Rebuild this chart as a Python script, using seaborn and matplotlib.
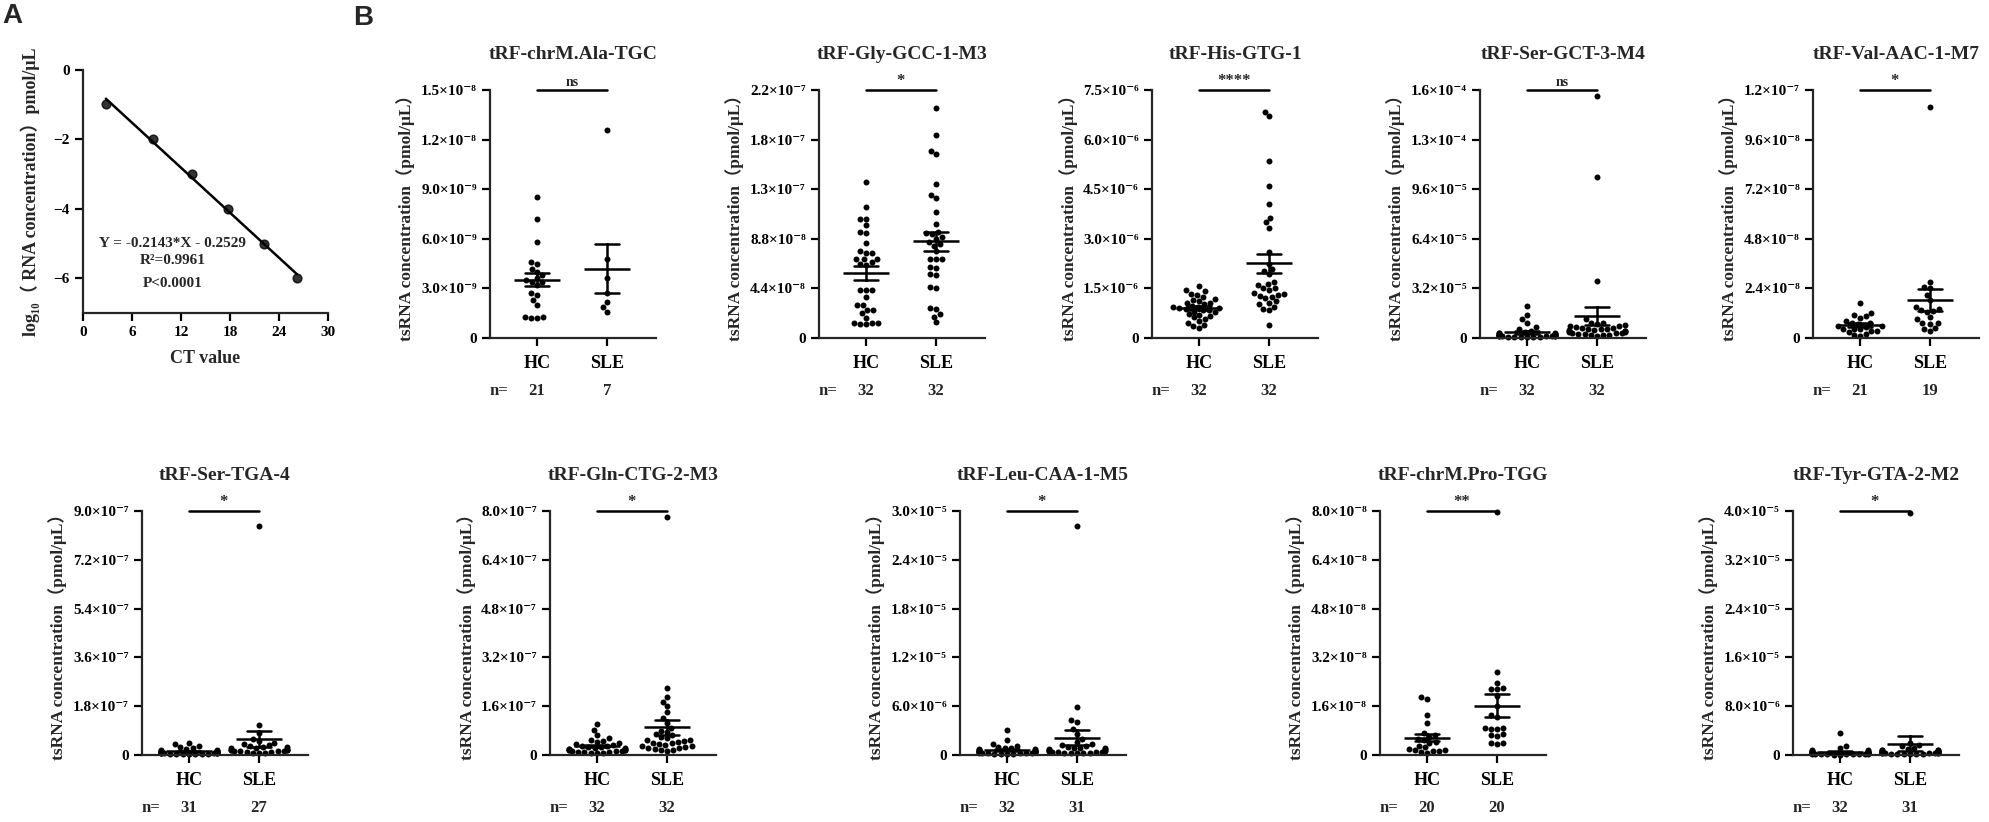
import numpy as np
import pandas as pd
import matplotlib
matplotlib.use("Agg")
import matplotlib.pyplot as plt
import seaborn as sns

# ---- panel A: standard curve ----
ct_value = [2.8, 8.6, 13.4, 17.7, 22.2, 26.2]
log_conc = [-0.97, -2.0, -3.0, -4.0, -5.0, -6.0]

# ---- panel B: values in units of 10**exp ----
groups = ["HC", "SLE"]
titles = ["tRF-chrM.Ala-TGC", "tRF-Gly-GCC-1-M3", "tRF-His-GTG-1", "tRF-Ser-GCT-3-M4",
          "tRF-Val-AAC-1-M7", "tRF-Ser-TGA-4", "tRF-Gln-CTG-2-M3", "tRF-Leu-CAA-1-M5",
          "tRF-chrM.Pro-TGG", "tRF-Tyr-GTA-2-M2"]
signif = ["ns", "*", "****", "ns", "*", "*", "*", "*", "**", "*"]
exps = [-9, -8, -6, -5, -8, -7, -7, -6, -8, -6]
ymax = [15, 22, 7.5, 16, 12, 9, 8, 30, 8, 40]

ala_hc = [8.5, 7.2, 5.8, 4.6, 4.5, 4.2, 4.0, 3.8, 3.6, 3.5, 3.4, 3.4, 3.2, 2.6, 2.7, 2.3,
          2.0, 1.3, 1.2, 1.2, 1.3]
ala_sle = [12.6, 4.8, 3.6, 2.7, 2.2, 1.9, 1.6]

gly_hc = [13.8, 11.6, 10.6, 10.6, 10.0, 9.4, 9.3, 8.4, 7.7, 7.5, 7.5, 7.0, 7.0, 7.0, 6.7,
          6.6, 6.5, 4.3, 4.3, 4.3, 3.6, 2.9, 2.9, 2.5, 2.5, 2.2, 1.8, 1.3, 1.3, 1.3, 1.2, 1.2]
gly_sle = [20.4, 18.0, 16.6, 16.3, 13.7, 12.7, 12.4, 11.2, 10.1, 9.4, 9.3, 9.2, 9.0, 8.8,
           8.5, 8.3, 8.2, 7.7, 7.0, 7.0, 7.0, 6.3, 6.2, 5.7, 5.6, 4.5, 4.4, 2.7, 2.6, 2.1,
           1.9, 1.4]

his_hc = [1.58, 1.45, 1.42, 1.33, 1.30, 1.25, 1.17, 1.15, 1.12, 1.07, 1.05, 1.02, 0.97,
          0.95, 0.94, 0.92, 0.90, 0.88, 0.86, 0.84, 0.80, 0.78, 0.72, 0.70, 0.68, 0.62,
          0.58, 0.52, 0.46, 0.40, 0.35, 0.30]
his_sle = [6.84, 6.70, 5.36, 4.59, 4.05, 3.64, 3.50, 3.34, 2.60, 2.24, 2.10, 2.04, 1.95,
           1.70, 1.63, 1.60, 1.52, 1.50, 1.45, 1.35, 1.33, 1.30, 1.28, 1.25, 1.20, 1.12,
           1.05, 1.02, 0.95, 0.89, 0.85, 0.38]

sergct_hc = [2.05, 1.5, 1.2, 0.95, 0.7, 0.55, 0.45, 0.4, 0.35, 0.32, 0.3, 0.28, 0.26, 0.24,
             0.22, 0.2, 0.19, 0.18, 0.17, 0.16, 0.15, 0.14, 0.13, 0.12, 0.11, 0.1, 0.09,
             0.08, 0.07, 0.06, 0.05, 0.04]
sergct_sle = [15.6, 10.4, 3.7, 1.2, 1.0, 0.95, 0.9, 0.85, 0.8, 0.75, 0.7, 0.65, 0.62, 0.6,
              0.58, 0.55, 0.52, 0.5, 0.48, 0.45, 0.42, 0.4, 0.38, 0.35, 0.33, 0.3, 0.28,
              0.25, 0.22, 0.2, 0.18, 0.15]

val_hc = [1.7, 1.2, 1.1, 1.05, 0.98, 0.82, 0.75, 0.73, 0.7, 0.58, 0.57, 0.55, 0.45, 0.44,
          0.42, 0.35, 0.33, 0.3, 0.18, 0.15, 0.08]
val_sle = [11.2, 2.7, 2.45, 2.4, 2.1, 1.85, 1.5, 1.4, 1.35, 1.3, 1.25, 1.0, 0.9, 0.75,
           0.72, 0.7, 0.5, 0.45, 0.35]

sertga_hc = [0.45, 0.4, 0.32, 0.28, 0.25, 0.22, 0.2, 0.18, 0.16, 0.15, 0.14, 0.13, 0.12,
             0.11, 0.1, 0.1, 0.09, 0.09, 0.08, 0.08, 0.07, 0.07, 0.06, 0.06, 0.05, 0.05,
             0.04, 0.04, 0.03, 0.03, 0.02]
sertga_sle = [8.44, 1.1, 0.8, 0.6, 0.5, 0.45, 0.4, 0.36, 0.33, 0.3, 0.28, 0.26, 0.24, 0.22,
              0.2, 0.19, 0.18, 0.17, 0.16, 0.15, 0.14, 0.13, 0.12, 0.1, 0.09, 0.08, 0.06]

gln_hc = [1.02, 0.82, 0.65, 0.55, 0.5, 0.45, 0.42, 0.38, 0.35, 0.33, 0.3, 0.28, 0.26, 0.25,
          0.24, 0.22, 0.21, 0.2, 0.19, 0.18, 0.17, 0.16, 0.15, 0.14, 0.13, 0.12, 0.11, 0.1,
          0.09, 0.08, 0.07, 0.06]
gln_sle = [7.8, 2.2, 1.9, 1.75, 1.6, 1.4, 1.2, 1.05, 0.9, 0.8, 0.75, 0.7, 0.65, 0.6, 0.55,
           0.5, 0.48, 0.45, 0.42, 0.4, 0.38, 0.35, 0.33, 0.3, 0.28, 0.26, 0.24, 0.22, 0.2,
           0.18, 0.16, 0.14]

leu_hc = [3.1, 1.85, 1.35, 1.1, 0.95, 0.85, 0.8, 0.75, 0.7, 0.65, 0.6, 0.58, 0.55, 0.52,
          0.5, 0.48, 0.45, 0.42, 0.4, 0.38, 0.35, 0.32, 0.3, 0.28, 0.26, 0.24, 0.22, 0.2,
          0.18, 0.16, 0.14, 0.12]
leu_sle = [28.2, 5.9, 4.3, 4.0, 3.2, 2.6, 2.0, 1.6, 1.4, 1.2, 1.1, 1.0, 0.9, 0.85, 0.8,
           0.75, 0.7, 0.65, 0.6, 0.55, 0.5, 0.45, 0.4, 0.38, 0.35, 0.32, 0.3, 0.28, 0.25,
           0.22, 0.2]

pro_hc = [1.9, 1.82, 1.3, 1.06, 0.72, 0.65, 0.6, 0.52, 0.48, 0.44, 0.4, 0.3, 0.25, 0.2,
          0.18, 0.16, 0.14, 0.12, 0.1, 0.06]
pro_sle = [7.97, 2.73, 2.35, 2.2, 2.18, 2.15, 1.95, 1.6, 1.3, 1.25, 0.9, 0.88, 0.86, 0.85,
           0.68, 0.65, 0.62, 0.4, 0.38, 0.36]

tyr_hc = [3.55, 1.4, 1.1, 0.9, 0.8, 0.7, 0.65, 0.6, 0.55, 0.5, 0.48, 0.45, 0.42, 0.4, 0.38,
          0.36, 0.34, 0.32, 0.3, 0.28, 0.26, 0.24, 0.22, 0.2, 0.18, 0.16, 0.15, 0.14, 0.12,
          0.1, 0.08, 0.06]
tyr_sle = [39.7, 2.0, 1.6, 1.4, 1.2, 1.0, 0.9, 0.85, 0.8, 0.75, 0.7, 0.65, 0.6, 0.55, 0.5,
           0.48, 0.45, 0.42, 0.4, 0.38, 0.35, 0.32, 0.3, 0.28, 0.25, 0.22, 0.2, 0.18, 0.15,
           0.12, 0.1]

hc_values = [ala_hc, gly_hc, his_hc, sergct_hc, val_hc, sertga_hc, gln_hc, leu_hc, pro_hc, tyr_hc]
sle_values = [ala_sle, gly_sle, his_sle, sergct_sle, val_sle, sertga_sle, gln_sle, leu_sle,
              pro_sle, tyr_sle]

sns.set_style("ticks")
plt.rcParams["font.family"] = ["Liberation Serif", "DejaVu Serif", "Noto Sans CJK SC"]
plt.rcParams["font.weight"] = "bold"
plt.rcParams["axes.labelweight"] = "bold"
plt.rcParams["axes.titleweight"] = "bold"
plt.rcParams["axes.linewidth"] = 1.6

W, H = 1989, 822
fig = plt.figure(figsize=(W / 100, H / 100), dpi=100)

SUP = str.maketrans("-0123456789", "⁻⁰¹²³⁴⁵⁶⁷⁸⁹")


def sci(v, pos=None):
    if v <= 0:
        return "0"
    e = int(np.floor(np.log10(v) + 1e-9))
    m = round(v / 10 ** e, 1)
    if m >= 10:
        m, e = m / 10, e + 1
    return f"{m:.1f}×10" + str(e).translate(SUP)


def px_axes(left, top, width, height):
    return fig.add_axes([left / W, (H - top - height) / H, width / W, height / H])


def style_axes(ax):
    sns.despine(ax=ax)
    for s in ("left", "bottom"):
        ax.spines[s].set_linewidth(1.6)
    ax.tick_params(width=1.6, length=6, colors="black")


# ---- panel A ----
axA = px_axes(83, 70, 245, 243)
sns.regplot(x=ct_value, y=log_conc, ci=None, truncate=True, color="black", ax=axA,
            scatter_kws={"s": 40, "zorder": 3, "clip_on": False}, line_kws={"linewidth": 1.8})
axA.set_xlim(0, 30)
axA.set_ylim(-7, 0)
axA.set_xticks(range(0, 31, 6))
axA.set_yticks([0, -2, -4, -6])
axA.tick_params(labelsize=11)
style_axes(axA)
axA.set_xlabel("CT value", fontsize=13, labelpad=8)
axA.set_ylabel("log₁₀（ RNA concentration）pmol/μL", fontsize=13, labelpad=10)
axA.text(11, -5.0, "Y = -0.2143*X - 0.2529", ha="center", va="center", fontsize=11)
axA.text(11, -5.5, "R²=0.9961", ha="center", va="center", fontsize=11)
axA.text(11, -6.15, "P<0.0001", ha="center", va="center", fontsize=11)

fig.text(2 / W, 1 - 3 / H, "A", fontsize=20, fontweight="bold", family="Liberation Sans", va="top")
fig.text(353 / W, 1 - 5 / H, "B", fontsize=20, fontweight="bold", family="Liberation Sans", va="top")

# ---- panel B ----
top_lefts = [490, 819, 1152, 1480, 1813]
bottom_lefts = [142, 550, 960, 1380, 1793]

for i in range(10):
    if i < 5:
        ax = px_axes(top_lefts[i], 90, 166, 248)
    else:
        ax = px_axes(bottom_lefts[i - 5], 511, 166, 244)
    unit = 10.0 ** exps[i]
    hc = np.array(hc_values[i]) * unit
    sle = np.array(sle_values[i]) * unit
    df = pd.DataFrame({"group": ["HC"] * len(hc) + ["SLE"] * len(sle),
                       "value": np.concatenate([hc, sle])})
    sns.swarmplot(data=df, x="group", y="value", order=groups, color="black", size=4.3,
                  ax=ax, clip_on=False, zorder=2, warn_thresh=1)
    sns.pointplot(data=df, x="group", y="value", order=groups, errorbar="se", capsize=0.33,
                  markers="_", markersize=33, markeredgewidth=1.8, linestyle="none",
                  color="black", err_kws={"linewidth": 1.8}, ax=ax, zorder=4)
    top = ymax[i] * unit
    ax.set_ylim(0, top)
    ax.set_xlim(-0.671, 1.7)
    ax.set_yticks(np.linspace(0, top, 6))
    ax.yaxis.set_major_formatter(plt.FuncFormatter(sci))
    style_axes(ax)
    ax.tick_params(axis="y", labelsize=11)
    ax.tick_params(axis="x", labelsize=13, pad=6)
    for c in ax.collections + ax.lines:
        c.set_clip_on(False)
    ax.set_xlabel("")
    ax.set_ylabel("tsRNA concentration（pmol/μL）", fontsize=12.5)
    ax.set_title(titles[i], fontsize=14, pad=22)
    ax.plot([0, 1], [top, top], color="black", lw=1.8, clip_on=False)
    ax.annotate(signif[i], xy=(0.5, top), xytext=(0, 1), textcoords="offset points",
                ha="center", va="bottom", fontsize=10 if signif[i] == "ns" else 12)
    ax.annotate("n=", xy=(-0.55, 0), xycoords=("data", "axes fraction"), xytext=(0, -38),
                textcoords="offset points", ha="center", va="center", fontsize=12)
    for k, vals in enumerate((hc, sle)):
        ax.annotate(str(len(vals)), xy=(k, 0), xycoords=("data", "axes fraction"),
                    xytext=(0, -38), textcoords="offset points", ha="center", va="center",
                    fontsize=12)

fig.savefig("out.png", dpi=100)
